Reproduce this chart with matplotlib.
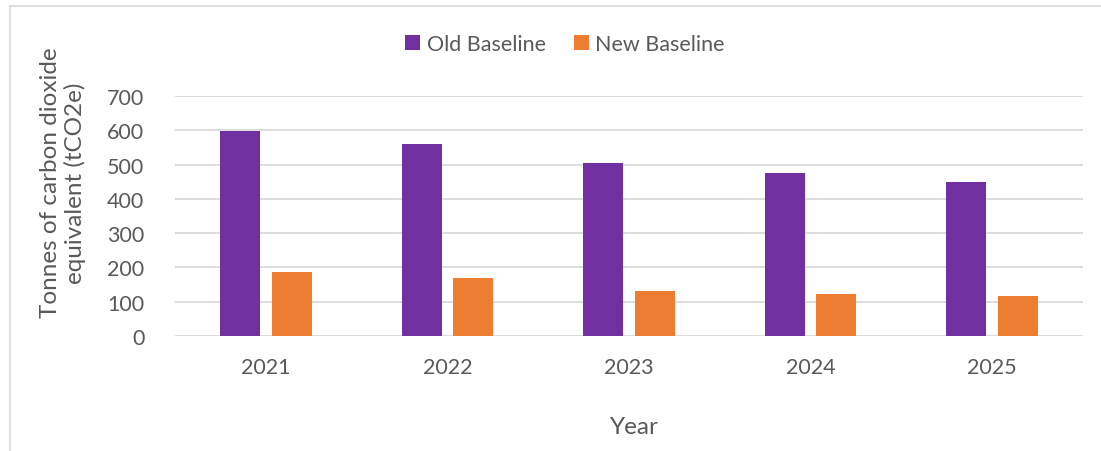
"""Old vs new baseline emissions by year (clustered bars)."""

import matplotlib
matplotlib.use("Agg")
import matplotlib.pyplot as plt
import numpy as np
from matplotlib.lines import Line2D

YEARS = ["2021", "2022", "2023", "2024", "2025"]
OLD_BASELINE = [597, 560, 504, 474, 449]
NEW_BASELINE = [186, 169, 130, 122, 116]
Y_TICKS = [0, 100, 200, 300, 400, 500, 600, 700]

PURPLE = "#7030A0"
ORANGE = "#ED7D31"
TEXT = "#595959"
GRID = "#D9D9D9"

plt.rcParams.update({
    "font.family": ["Lato", "DejaVu Sans"],
    "font.size": 16,
    "text.color": TEXT,
})

fig = plt.figure(figsize=(11.01, 4.52), dpi=100)
ax = fig.add_axes([175 / 1101, 1 - 337 / 452, (1083 - 175) / 1101, (337 - 97) / 452])

x = np.arange(len(YEARS))
width = 0.22
offset = 0.142
ax.bar(x - offset, OLD_BASELINE, width, color=PURPLE, label="Old Baseline", zorder=3)
ax.bar(x + offset, NEW_BASELINE, width, color=ORANGE, label="New Baseline", zorder=3)

ax.set_xlim(-0.5, len(YEARS) - 0.5)
ax.set_ylim(0, 700)
ax.set_yticks(Y_TICKS)
ax.set_xticks(x)
ax.set_xticklabels(YEARS)
ax.tick_params(axis="both", length=0, colors=TEXT, labelsize=15.5)
ax.tick_params(axis="y", pad=22)
ax.tick_params(axis="x", pad=15)
ax.grid(axis="y", color=GRID, linewidth=1.3, zorder=0)
for side in ("top", "right", "left", "bottom"):
    ax.spines[side].set_visible(False)

fig.text(63 / 1101, 1 - 183 / 452, "Tonnes of carbon dioxide\nequivalent (tCO2e)",
         rotation=90, ha="center", va="center", fontsize=17.5, color=TEXT,
         linespacing=1.2)
fig.text(634 / 1101, 1 - 428 / 452, "Year", ha="center", va="center",
         fontsize=17.5, color=TEXT)

ax.legend(loc="center", bbox_to_anchor=(565 / 1101, 1 - 45 / 452),
          bbox_transform=fig.transFigure, ncol=2, frameon=False,
          fontsize=15.5, handlelength=0.7, handleheight=0.7,
          handletextpad=0.3, columnspacing=1.3, labelcolor=TEXT)

# chart-area border (only the left and top edges are visible)
fig.add_artist(Line2D([10 / 1101, 10 / 1101], [0, 1 - 7 / 452],
                      transform=fig.transFigure, color=GRID, linewidth=1.2))
fig.add_artist(Line2D([10 / 1101, 1], [1 - 7 / 452, 1 - 7 / 452],
                      transform=fig.transFigure, color=GRID, linewidth=1.2))

fig.savefig("out.png", dpi=100, facecolor="white")
